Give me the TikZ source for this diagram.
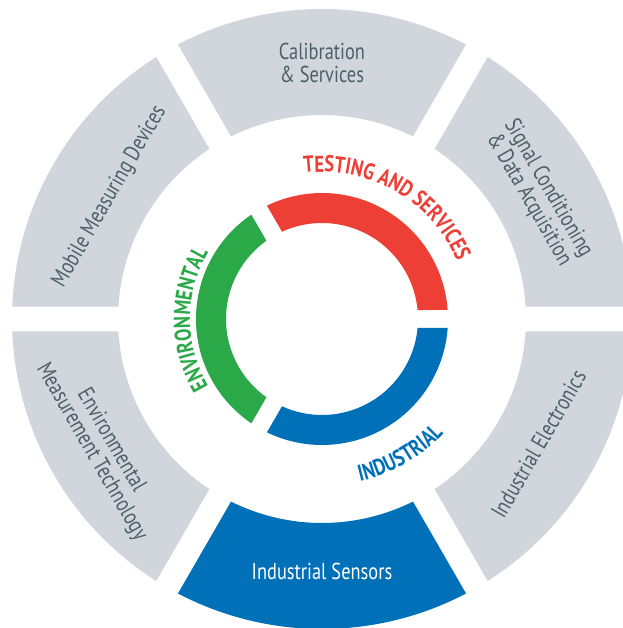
\documentclass[tikz,border=0pt]{standalone}
\usepackage{fontspec}
\setmainfont{PT Sans}[FakeStretch=0.8]
\usetikzlibrary{decorations.text}
\definecolor{ringgray}{RGB}{208,214,220}
\definecolor{labelgray}{RGB}{78,94,105}
\definecolor{ringblue}{RGB}{0,112,184}
\definecolor{ringred}{RGB}{238,63,55}
\definecolor{ringgreen}{RGB}{43,169,73}
\newcommand{\labelfont}{\fontsize{23}{23}\selectfont\bfseries}
% piece of a ring: start angle, end angle, inner r, outer r, half gap
\newcommand{\ringpiece}[5]{({#1+asin(#5/#4)}:#4pt)
  arc[start angle={#1+asin(#5/#4)}, end angle={#2-asin(#5/#4)}, radius=#4pt]
  -- ({#2-asin(#5/#3)}:#3pt)
  arc[start angle={#2-asin(#5/#3)}, end angle={#1+asin(#5/#3)}, radius=#3pt] -- cycle}

\begin{document}
\begin{tikzpicture}[x=1pt, y=1pt,
    segtext/.style={text=labelgray, font=\fontsize{23}{22.5}\selectfont, align=center, inner sep=0pt}]
    \useasboundingbox (-322,-309) rectangle (300,319);

    % outer ring
    \fill[ringgray] \ringpiece{0}{60}{204}{310}{12.5};
    \fill[ringgray] \ringpiece{60}{120}{204}{310}{12.5};
    \fill[ringgray] \ringpiece{120}{180}{204}{310}{12.5};
    \fill[ringgray] \ringpiece{180}{240}{204}{310}{12.5};
    \fill[ringblue] \ringpiece{240}{300}{204}{310}{12.5};
    \fill[ringgray] \ringpiece{300}{360}{204}{310}{12.5};

    % inner ring
    \fill[ringred] \ringpiece{0}{120}{96}{126}{9};
    \fill[ringgreen] \ringpiece{120}{240}{96}{126}{9};
    \fill[ringblue] \ringpiece{240}{360}{96}{126}{9};

    % texts of the outer ring
    \node[segtext] (calib) at (90:256pt) {Calibration\\\& Services};
    \node[segtext, rotate=60] (mobile) at (150:245pt) {Mobile Measuring Devices};
    \node[segtext, rotate=-60] (signal) at (30:250pt) {Signal Conditioning\\\& Data Acquisition};
    \node[segtext, rotate=-60] (envtech) at (210:255pt) {Environmental\\Measurement Technology};
    \node[segtext, rotate=60] (indelec) at (330:250pt) {Industrial Electronics};
    \node[segtext, text=white] (indsens) at (270:252pt) {Industrial Sensors};

    % curved labels of the inner ring
    \path[decorate, decoration={text along path, text color=ringred, text align=center,
        text={|\labelfont|TESTING AND SERVICES}}]
        (110:147pt) arc[start angle=110, end angle=10, radius=147pt];
    \path[decorate, decoration={text along path, text color=ringgreen, text align=center,
        text={|\labelfont|ENVIRONMENTAL}}]
        (220:132pt) arc[start angle=220, end angle=140, radius=132pt];
    \path[decorate, decoration={text along path, text color=ringblue, text align=center,
        text={|\labelfont|INDUSTRIAL}}]
        (-100:167pt) arc[start angle=-100, end angle=-20, radius=167pt];
\end{tikzpicture}
\end{document}
